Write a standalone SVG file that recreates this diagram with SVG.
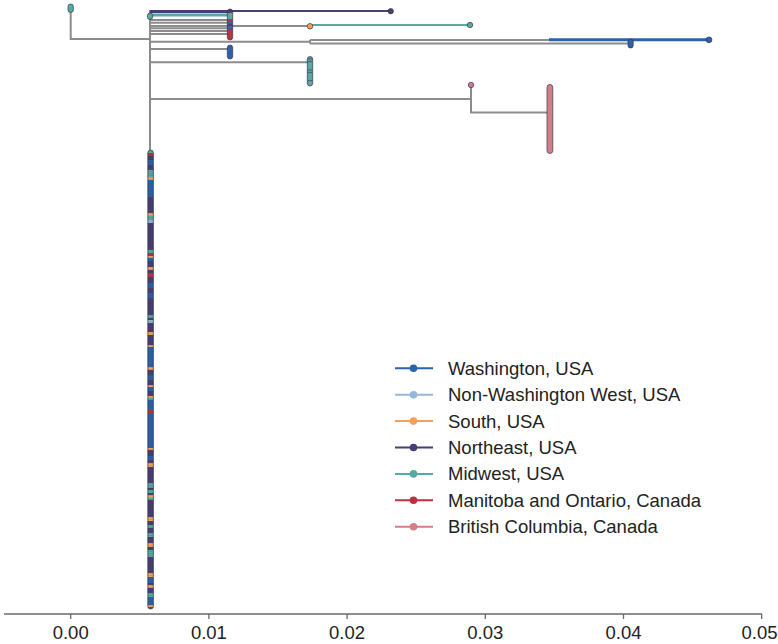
<svg xmlns="http://www.w3.org/2000/svg" width="778" height="644" viewBox="0 0 778 644">
<style>
.br{stroke:#8c8c8c;stroke-width:2;fill:none;stroke-linecap:butt}
.tip{stroke:#333a44;stroke-width:0.7}
.W{fill:#2a62ad}.L{fill:#93b6da}.S{fill:#f3a05a}.N{fill:#4a3d73}.M{fill:#55aaa1}.R{fill:#bf2f3e}.B{fill:#d67d87}
.sW{stroke:#2a62ad}.sL{stroke:#93b6da}.sS{stroke:#f3a05a}.sN{stroke:#4a3d73}.sM{stroke:#55aaa1}.sR{stroke:#bf2f3e}.sB{stroke:#d67d87}
.lab{font-family:"Liberation Sans",Arial,sans-serif;font-size:18.5px;fill:#222}
.axl{font-family:"Liberation Sans",Arial,sans-serif;font-size:18.5px;fill:#222;text-anchor:middle}
</style>
<defs>
<clipPath id="colclip"><rect x="147.8" y="150" width="5.6" height="459" rx="2.8"/></clipPath>
<pattern id="arcs" x="0" y="150" width="6" height="2" patternUnits="userSpaceOnUse">
<path d="M0,2 Q3,0.2 6,2" fill="none" stroke="#222" stroke-width="0.35" opacity="0.45"/>
</pattern>
</defs>

<g id="connectors">
<path class="br" d="M70.7,9 V39 H150"/>
<path class="br" d="M150,10 V150"/>
<path class="br" d="M150,20 H230 M150,22.7 H230 M150,28.3 H230 M150,31 H230 M150,34 H230"/>
<path class="br" d="M150,26 H310"/>
<path class="br" d="M150,41.7 H310 M310,40 V43.5 M310,40 H549 M310,43.5 H630"/>
<path class="br" d="M150,49 H230"/>
<path class="br" d="M150,62.3 H310"/>
<path class="br" d="M150,99 H471 M471,85 V112.5 H549"/>
<path class="sN" d="M150,11 H390.7" stroke-width="2"/>
<path class="sN" d="M150,11.5 H230" stroke-width="3"/>
<path class="sM" d="M150,15 H230" stroke-width="3"/>
<path class="sM" d="M310,25 H470" stroke-width="2"/>
<path class="sW" d="M549,39.8 H709" stroke-width="3"/>
</g>

<g id="root-tip"><rect class="tip M" x="68" y="4" width="5.4" height="8.5" rx="2.7"/></g>
<g id="node-teal"><rect class="tip M" x="147.4" y="13" width="5.2" height="6.5" rx="2.6"/></g>

<g id="tips-230">
<clipPath id="c230"><rect x="227.3" y="9" width="5.4" height="31" rx="2.7"/></clipPath>
<g clip-path="url(#c230)">
<rect class="N" x="227" y="9" width="6" height="4.5"/>
<rect class="M" x="227" y="13.5" width="6" height="5.5"/>
<rect class="R" x="227" y="19" width="6" height="2"/>
<rect class="W" x="227" y="21" width="6" height="3"/>
<rect class="N" x="227" y="24" width="6" height="2.5"/>
<rect class="W" x="227" y="26.5" width="6" height="3.5"/>
<rect class="R" x="227" y="30" width="6" height="10"/>
</g>
<rect x="227.3" y="9" width="5.4" height="31" rx="2.7" fill="none" stroke="#333a44" stroke-width="0.7"/>
</g>
<g id="tips-230b"><rect class="tip W" x="227.3" y="45" width="5.4" height="14" rx="2.7"/></g>
<g id="tip-purple"><circle class="tip N" cx="390.7" cy="11.2" r="2.7"/></g>
<g id="node-orange"><circle class="tip S" cx="310" cy="26.3" r="2.8"/></g>
<g id="tip-teal-470"><circle class="tip M" cx="470" cy="25" r="2.7"/></g>
<g id="tip-blue-709"><circle class="tip W" cx="709" cy="39.8" r="2.9"/></g>
<g id="tip-blue-630"><rect class="tip W" x="628" y="39" width="5.2" height="9" rx="2.6"/></g>
<g id="tips-310">
<rect class="tip M" x="307.3" y="56.5" width="5.4" height="29.5" rx="2.7"/>
<path d="M307.6,59.5 Q310,57.8 312.4,59.5 M307.6,62 Q310,60.3 312.4,62 M307.6,70.5 Q310,68.8 312.4,70.5 M307.6,73 Q310,71.3 312.4,73 M307.6,81 Q310,79.3 312.4,81" fill="none" stroke="#4a3d73" stroke-width="0.8"/>
</g>
<g id="tip-pink-471"><circle class="tip B" cx="471" cy="85" r="2.7"/></g>
<g id="tips-pink-550"><rect class="tip B" x="547" y="84.5" width="5.8" height="69" rx="2.9"/></g>

<g id="tips-column">
<g clip-path="url(#colclip)">
<rect class="M" x="147" y="150" width="7" height="3"/>
<rect class="R" x="147" y="153" width="7" height="3"/>
<rect class="N" x="147" y="156" width="7" height="4"/>
<rect class="W" x="147" y="160" width="7" height="5"/>
<rect class="N" x="147" y="165" width="7" height="5"/>
<rect class="M" x="147" y="170" width="7" height="7"/>
<rect class="S" x="147" y="177" width="7" height="3"/>
<rect class="W" x="147" y="180" width="7" height="17"/>
<rect class="N" x="147" y="197" width="7" height="16"/>
<rect class="S" x="147" y="213" width="7" height="3"/>
<rect class="M" x="147" y="216" width="7" height="4"/>
<rect class="L" x="147" y="220" width="7" height="3"/>
<rect class="N" x="147" y="223" width="7" height="27"/>
<rect class="M" x="147" y="250" width="7" height="3"/>
<rect class="R" x="147" y="253" width="7" height="3"/>
<rect class="S" x="147" y="256" width="7" height="2"/>
<rect class="W" x="147" y="258" width="7" height="3"/>
<rect class="N" x="147" y="261" width="7" height="6"/>
<rect class="S" x="147" y="267" width="7" height="3"/>
<rect class="N" x="147" y="270" width="7" height="3"/>
<rect class="R" x="147" y="273" width="7" height="4"/>
<rect class="N" x="147" y="277" width="7" height="6"/>
<rect class="W" x="147" y="283" width="7" height="5"/>
<rect class="N" x="147" y="288" width="7" height="5"/>
<rect class="W" x="147" y="293" width="7" height="5"/>
<rect class="N" x="147" y="298" width="7" height="17"/>
<rect class="M" x="147" y="315" width="7" height="3"/>
<rect class="N" x="147" y="318" width="7" height="2"/>
<rect class="L" x="147" y="320" width="7" height="3"/>
<rect class="N" x="147" y="323" width="7" height="9"/>
<rect class="S" x="147" y="332" width="7" height="3"/>
<rect class="N" x="147" y="335" width="7" height="10"/>
<rect class="S" x="147" y="345" width="7" height="2"/>
<rect class="W" x="147" y="347" width="7" height="20"/>
<rect class="S" x="147" y="367" width="7" height="3"/>
<rect class="N" x="147" y="370" width="7" height="5"/>
<rect class="W" x="147" y="375" width="7" height="5"/>
<rect class="N" x="147" y="380" width="7" height="5"/>
<rect class="S" x="147" y="385" width="7" height="2"/>
<rect class="W" x="147" y="387" width="7" height="4"/>
<rect class="N" x="147" y="391" width="7" height="5"/>
<rect class="S" x="147" y="396" width="7" height="2"/>
<rect class="M" x="147" y="398" width="7" height="2"/>
<rect class="W" x="147" y="400" width="7" height="10"/>
<rect class="R" x="147" y="410" width="7" height="3"/>
<rect class="W" x="147" y="413" width="7" height="35"/>
<rect class="S" x="147" y="448" width="7" height="2"/>
<rect class="N" x="147" y="450" width="7" height="6"/>
<rect class="W" x="147" y="456" width="7" height="4"/>
<rect class="N" x="147" y="460" width="7" height="3"/>
<rect class="S" x="147" y="463" width="7" height="4"/>
<rect class="N" x="147" y="467" width="7" height="16"/>
<rect class="M" x="147" y="483" width="7" height="5"/>
<rect class="N" x="147" y="488" width="7" height="2"/>
<rect class="M" x="147" y="490" width="7" height="3"/>
<rect class="N" x="147" y="493" width="7" height="2"/>
<rect class="S" x="147" y="495" width="7" height="3"/>
<rect class="M" x="147" y="498" width="7" height="2"/>
<rect class="N" x="147" y="500" width="7" height="17"/>
<rect class="S" x="147" y="517" width="7" height="4"/>
<rect class="N" x="147" y="521" width="7" height="4"/>
<rect class="M" x="147" y="525" width="7" height="3"/>
<rect class="N" x="147" y="528" width="7" height="5"/>
<rect class="M" x="147" y="533" width="7" height="4"/>
<rect class="N" x="147" y="537" width="7" height="6"/>
<rect class="S" x="147" y="543" width="7" height="4"/>
<rect class="N" x="147" y="547" width="7" height="3"/>
<rect class="M" x="147" y="550" width="7" height="7"/>
<rect class="N" x="147" y="557" width="7" height="16"/>
<rect class="S" x="147" y="573" width="7" height="4"/>
<rect class="W" x="147" y="577" width="7" height="6"/>
<rect class="N" x="147" y="583" width="7" height="2"/>
<rect class="S" x="147" y="585" width="7" height="3"/>
<rect class="N" x="147" y="588" width="7" height="5"/>
<rect class="M" x="147" y="593" width="7" height="4"/>
<rect class="W" x="147" y="597" width="7" height="8"/>
<rect class="S" x="147" y="605" width="7" height="2"/>
<rect class="W" x="147" y="607" width="7" height="2"/>
<rect x="147" y="150" width="7" height="459" fill="url(#arcs)"/>
</g>
<rect x="147.8" y="150" width="5.6" height="459" rx="2.8" fill="none" stroke="#333a44" stroke-width="0.7"/>
</g>

<g id="axis">
<path d="M4,614 H762 M70.7,614 v5 M208.9,614 v5 M347.1,614 v5 M485.3,614 v5 M623.5,614 v5 M761.7,614 v5" stroke="#6a6a6a" stroke-width="1.3" fill="none"/>
<text class="axl" x="70.7" y="639">0.00</text>
<text class="axl" x="208.9" y="639">0.01</text>
<text class="axl" x="347.1" y="639">0.02</text>
<text class="axl" x="485.3" y="639">0.03</text>
<text class="axl" x="623.5" y="639">0.04</text>
<text class="axl" x="759.5" y="639">0.05</text>
</g>

<g id="legend">
<g id="leg-wa"><path class="sW" d="M395,368.3 H433" stroke-width="2"/><circle class="W" cx="413.5" cy="368.3" r="3.8"/><text class="lab" x="448" y="374.8">Washington, USA</text></g>
<g id="leg-nww"><path class="sL" d="M395,394.7 H433" stroke-width="2"/><circle class="L" cx="413.5" cy="394.7" r="3.8"/><text class="lab" x="448" y="401.2">Non-Washington West, USA</text></g>
<g id="leg-s"><path class="sS" d="M395,421.1 H433" stroke-width="2"/><circle class="S" cx="413.5" cy="421.1" r="3.8"/><text class="lab" x="448" y="427.6">South, USA</text></g>
<g id="leg-ne"><path class="sN" d="M395,447.5 H433" stroke-width="2"/><circle class="N" cx="413.5" cy="447.5" r="3.8"/><text class="lab" x="448" y="454">Northeast, USA</text></g>
<g id="leg-mw"><path class="sM" d="M395,473.9 H433" stroke-width="2"/><circle class="M" cx="413.5" cy="473.9" r="3.8"/><text class="lab" x="448" y="480.4">Midwest, USA</text></g>
<g id="leg-mo"><path class="sR" d="M395,500.3 H433" stroke-width="2"/><circle class="R" cx="413.5" cy="500.3" r="3.8"/><text class="lab" x="448" y="506.8">Manitoba and Ontario, Canada</text></g>
<g id="leg-bc"><path class="sB" d="M395,526.7 H433" stroke-width="2"/><circle class="B" cx="413.5" cy="526.7" r="3.8"/><text class="lab" x="448" y="533.2">British Columbia, Canada</text></g>
</g>
</svg>
